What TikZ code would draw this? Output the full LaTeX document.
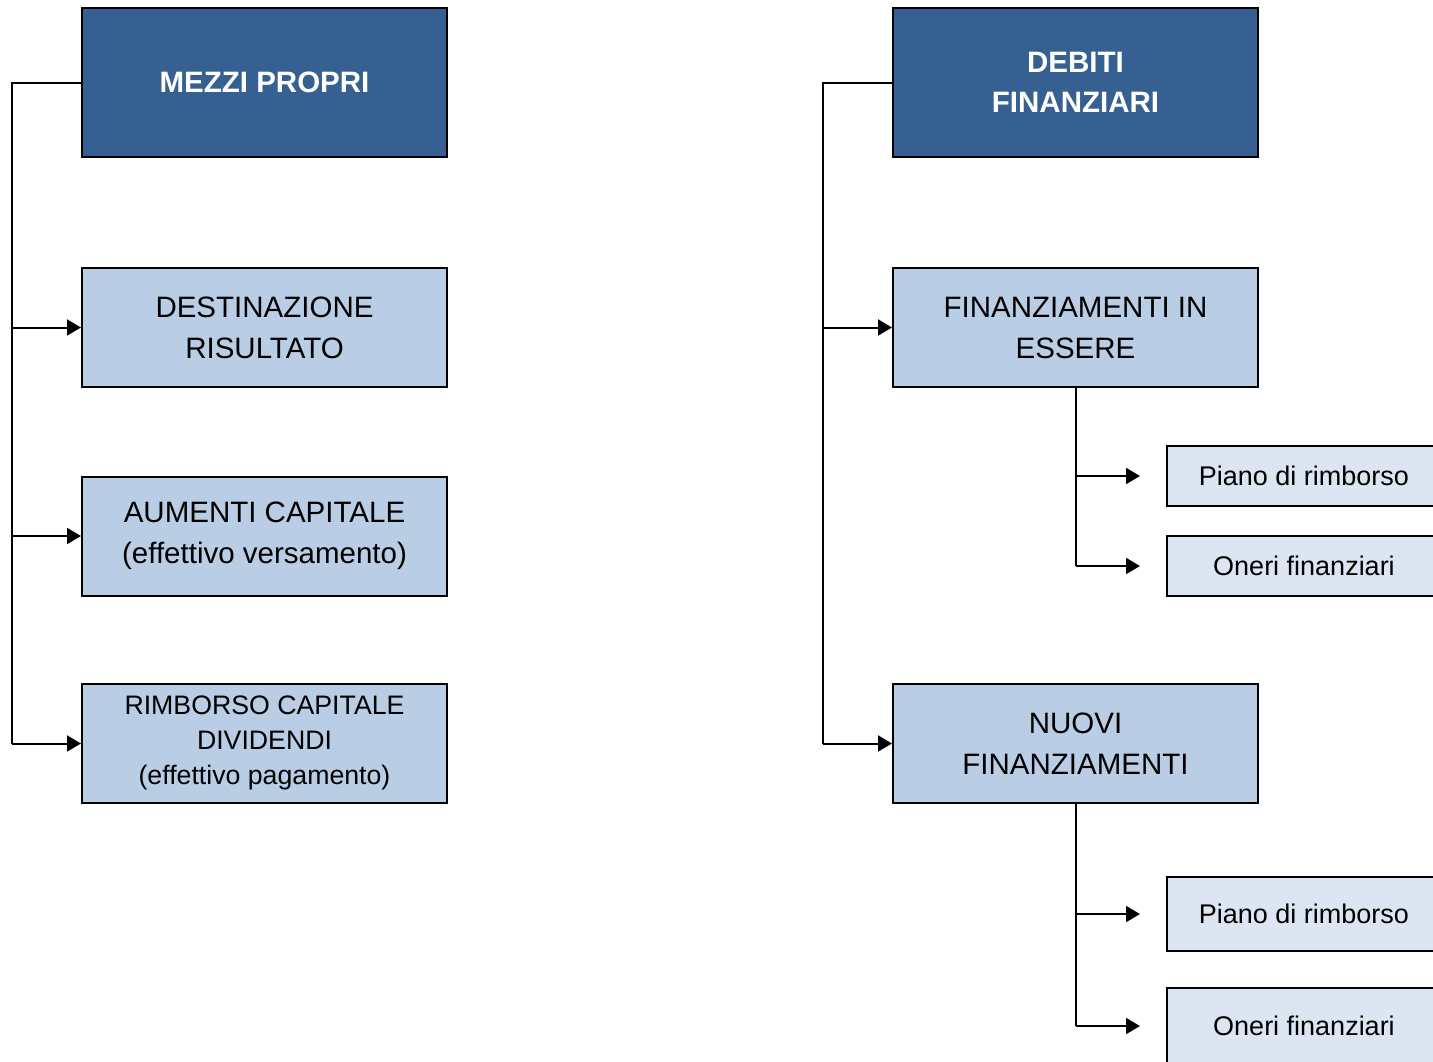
\documentclass[tikz,border=0pt]{standalone}
\usepackage{fontspec}
\setmainfont{Liberation Sans}
\usetikzlibrary{arrows.meta,positioning}
\definecolor{darkblu}{RGB}{54,96,146}
\definecolor{midblu}{RGB}{185,205,229}
\definecolor{lightblu}{RGB}{220,230,242}
\tikzset{
  headbox/.style={draw=black,line width=2pt,fill=darkblu,text=white,
    font=\fontsize{29.5}{40}\selectfont\bfseries,
    minimum width=365pt,minimum height=149pt,align=center,inner sep=0pt},
  itembox/.style={draw=black,line width=2pt,fill=midblu,
    font=\fontsize{29.5}{41}\selectfont,
    minimum width=365pt,minimum height=119pt,align=center,inner sep=0pt},
  leafbox/.style={draw=black,line width=2pt,fill=lightblu,
    font=\fontsize{27}{33}\selectfont,minimum width=274pt,inner sep=0pt},
  conn/.style={line width=2pt},
  arr/.style={conn,-{Triangle[length=14pt,width=16pt]}},
}
\begin{document}
\begin{tikzpicture}[x=1pt,y=-1pt]
\useasboundingbox (0,0) rectangle (1433,1061);
\clip (0,0) rectangle (1433,1061);

% mezzi propri
\node[headbox] (mezzi) at (264.5,82.5) {MEZZI PROPRI};
\node[itembox] (destin) at (264.5,327.5) {DESTINAZIONE\\RISULTATO};
\node[itembox,text depth=6pt] (aumenti) at (264.5,536) {AUMENTI CAPITALE\\(effettivo versamento)};
\node[itembox,font=\fontsize{26.7}{35}\selectfont,text depth=6pt] (rimb) at (264.5,743.5) {RIMBORSO CAPITALE\\DIVIDENDI\\(effettivo pagamento)};

% debiti finanziari
\node[headbox] (debiti) at (1075.5,82.5) {DEBITI\\FINANZIARI};
\node[itembox] (inessere) at (1075.5,327.5) {FINANZIAMENTI IN\\ESSERE};
\node[itembox] (nuovi) at (1075.5,743.5) {NUOVI\\FINANZIAMENTI};

\node[leafbox,minimum height=60pt] (piano1) at (1304,476) {Piano di rimborso};
\node[leafbox,minimum height=60pt] (oneri1) at (1304,566) {Oneri finanziari};
\node[leafbox,minimum height=74pt] (piano2) at (1304,914) {Piano di rimborso};
\node[leafbox,minimum height=76pt] (oneri2) at (1304,1026) {Oneri finanziari};

\coordinate (lbus) at (12,82.5);
\coordinate (rbus) at (823,82.5);

\draw[conn] (mezzi.west) -- (lbus) -- (lbus |- rimb.west);
\foreach \n in {destin,aumenti,rimb}
  \draw[arr] (lbus |- \n.west) -- (\n.west);

\draw[conn] (debiti.west) -- (rbus) -- (rbus |- nuovi.west);
\foreach \n in {inessere,nuovi}
  \draw[arr] (rbus |- \n.west) -- (\n.west);

\draw[conn] (inessere.south) -- (inessere.south |- oneri1.west);
\foreach \n in {piano1,oneri1}
  \draw[arr,shorten >=26pt] (inessere.south |- \n.west) -- (\n.west);

\draw[conn] (nuovi.south) -- (nuovi.south |- oneri2.west);
\foreach \n in {piano2,oneri2}
  \draw[arr,shorten >=26pt] (nuovi.south |- \n.west) -- (\n.west);
\end{tikzpicture}
\end{document}
